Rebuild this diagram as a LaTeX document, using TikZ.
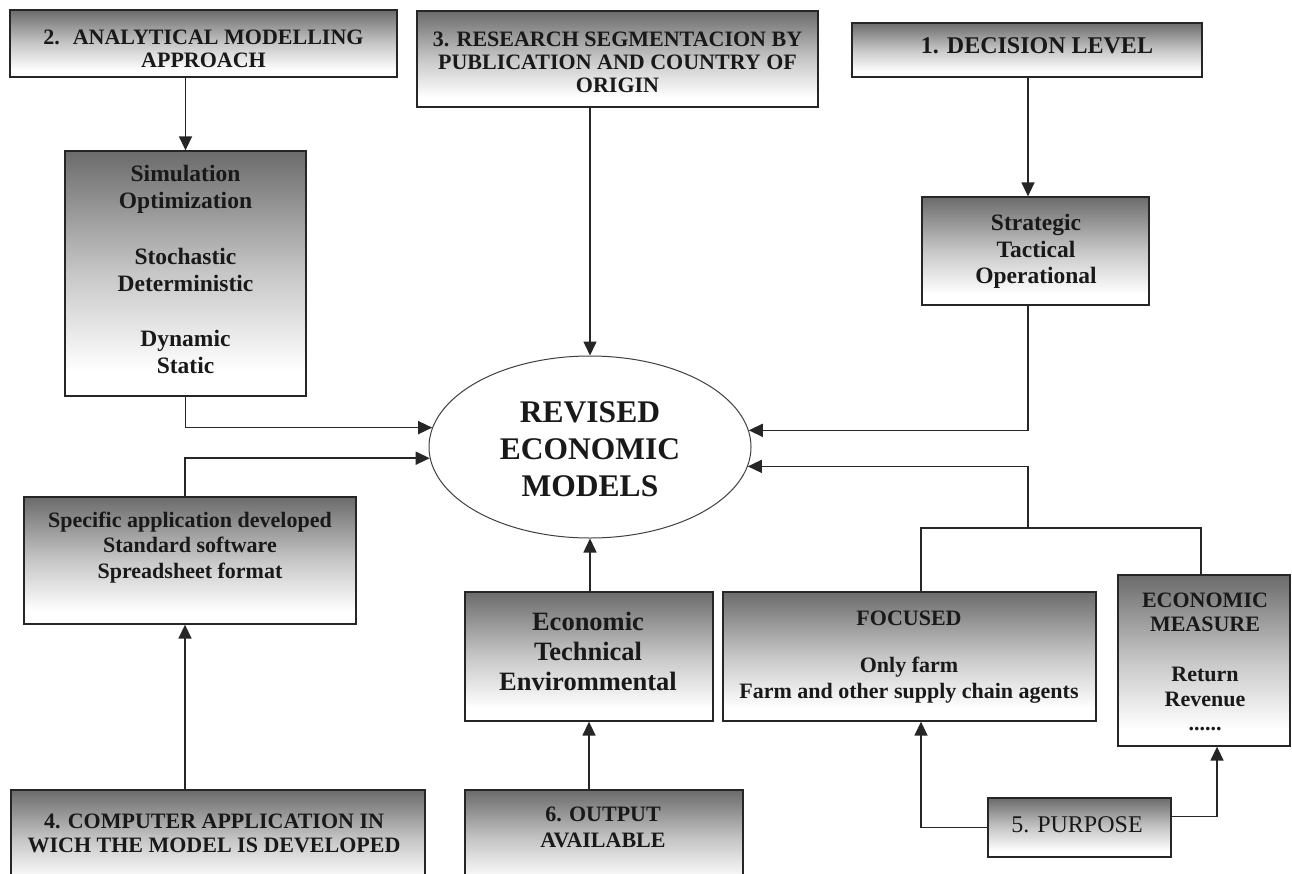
\documentclass[tikz,border=0pt]{standalone}
\usepackage{fontspec}
\setmainfont{Liberation Serif}
\usetikzlibrary{arrows.meta,shapes.geometric,calc}
\pgfdeclareverticalshading{boxshade}{100bp}{color(0bp)=(white); color(30bp)=(white); color(50bp)=(black!22); color(75bp)=(black!58); color(100bp)=(black!58)}
\begin{document}
\begin{tikzpicture}[x=1pt,y=-1pt,
  box/.style={rectangle, draw=black!85, line width=1.3pt, shading=boxshade, inner sep=0pt},
  txt/.style={align=center, inner sep=0pt, text=black!90, font=\bfseries\fontsize{22}{23}\selectfont},
  conn/.style={line width=1.5pt, draw=black!85},
  arr/.style={conn, -{Triangle[length=14pt,width=13pt]}}]
\useasboundingbox (0,0) rectangle (1292,873);
\clip (0,0) rectangle (1292,873);
\fill[white] (0,0) rectangle (1292,873);

% boxes
\node[box, minimum width=387pt, minimum height=67pt] (b2) at (203.5,43.5) {};
\node[txt] at (203.5,49) {2.~ ANALYTICAL MODELLING\\APPROACH};

\node[box, minimum width=401pt, minimum height=96pt] (b3) at (617.5,59) {};
\node[txt] at (617.5,62) {3. RESEARCH SEGMENTACION BY\\PUBLICATION AND COUNTRY OF\\ORIGIN};

\node[box, minimum width=350pt, minimum height=54pt] (b1) at (1027,50) {};
\node[txt, font=\bfseries\fontsize{24}{25}\selectfont] at (1037,46) {1. DECISION LEVEL};

\node[box, minimum width=227pt, minimum height=108pt] (strat) at (1035.5,251) {};
\node[txt, font=\bfseries\fontsize{23.5}{26.5}\selectfont] at (1036,251.5) {Strategic\\Tactical\\Operational};

\node[box, minimum width=241pt, minimum height=245pt] (sim) at (185.5,273.5) {};
\node[txt, font=\bfseries\fontsize{23.5}{27}\selectfont] at (185.5,269.5) {Simulation\\Optimization\\[28.5pt]Stochastic\\Deterministic\\[28.5pt]Dynamic\\Static};

\node[ellipse, draw=black!75, line width=1pt, fill=white, minimum width=322pt, minimum height=182pt, inner sep=0pt] (el) at (590,447) {};
\node[txt, font=\bfseries\fontsize{31.5}{37}\selectfont] at (590,449) {REVISED\\ECONOMIC\\MODELS};

\node[box, minimum width=332pt, minimum height=127pt] (spec) at (190,560.5) {};
\node[txt, font=\bfseries\fontsize{22}{25.5}\selectfont] at (190,547.5) {Specific application developed\\Standard software\\Spreadsheet format};

\node[box, minimum width=248pt, minimum height=129pt] (econ) at (589,656.5) {};
\node[txt, font=\bfseries\fontsize{26.5}{30}\selectfont] at (588,651) {Economic\\Technical\\Envirommental};

\node[box, minimum width=373pt, minimum height=129pt] (foc) at (909.5,656.5) {};
\node[txt, font=\bfseries\fontsize{22}{26}\selectfont] at (909,657.5) {FOCUSED\\[21pt]Only farm\\Farm and other supply chain agents};

\node[box, minimum width=172pt, minimum height=171pt] (meas) at (1204,660.5) {};
\node[txt, font=\bfseries\fontsize{22}{24.5}\selectfont] at (1205,662) {ECONOMIC\\MEASURE\\[25.5pt]Return\\Revenue\\......};

\node[box, minimum width=183pt, minimum height=59pt] (purp) at (1079.5,827.5) {};
\node[txt, font=\fontsize{24}{26}\selectfont] at (1077,825) {5. PURPOSE};

\node[box, minimum width=414pt, minimum height=100pt] (b4) at (218,840) {};
\node[txt, font=\bfseries\fontsize{22}{24}\selectfont] at (214,833) {4. COMPUTER APPLICATION IN\\WICH THE MODEL IS DEVELOPED};

\node[box, minimum width=278pt, minimum height=100pt] (b6) at (604,840) {};
\node[txt, font=\bfseries\fontsize{22}{26}\selectfont] at (603,827) {6. OUTPUT\\AVAILABLE};

% connectors
\draw[arr] (sim.north |- b2.south) -- (sim.north);
\draw[arr] (el.north |- b3.south) -- (el.north);
\draw[arr] (b1.south -| 1028,0) -- (strat.north -| 1028,0);
\draw[arr] (sim.south) |- (el.173.9);
\draw[arr] (spec.north -| 185,0) |- (el.184.7);
\draw[arr] (b4.north -| 185,0) -- (spec.south -| 185,0);
\draw[arr] (el.south |- econ.north) -- (el.south);
\draw[arr] (econ.south |- b6.north) -- (econ.south);
\draw[arr] (strat.south -| 1028,0) |- (el.6.1);
\coordinate (jn) at (1028,528);
\draw[conn] (foc.north -| 921,0) |- (jn) -| (meas.north -| 1201,0);
\draw[arr] (jn) |- (el.353.9);
\draw[arr] (purp.west) -| (foc.south -| 921,0);
\draw[arr] ([yshift=11pt]purp.east) -| (meas.south -| 1217,0);
\end{tikzpicture}
\end{document}
